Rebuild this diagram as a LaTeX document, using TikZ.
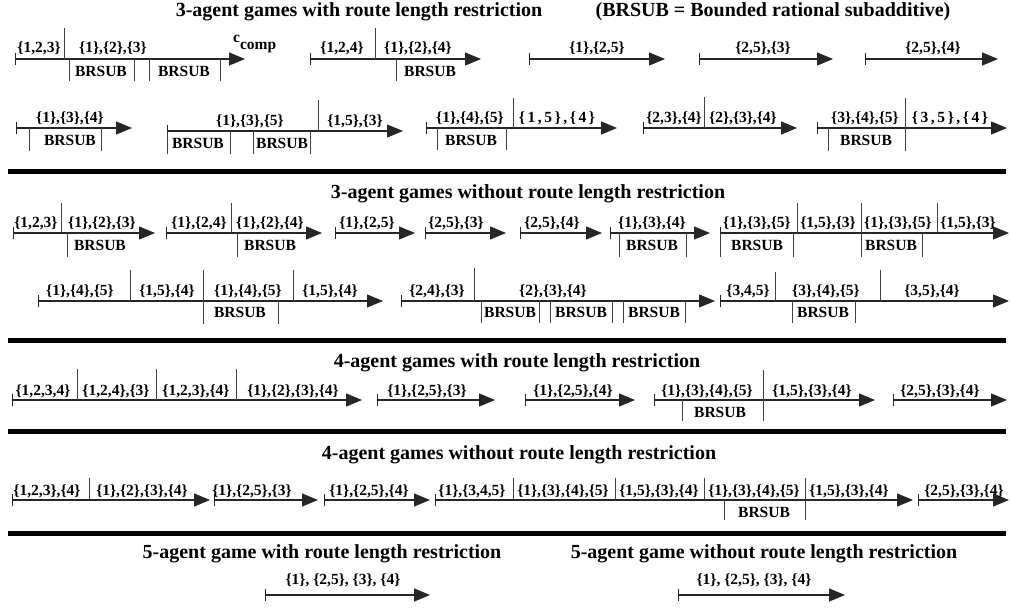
\documentclass[tikz,border=0pt]{standalone}
\usepackage{fontspec}
\setmainfont{Liberation Serif}
\usepackage{tikz}
\usetikzlibrary{arrows.meta}

\begin{document}
\begin{tikzpicture}[x=1pt, y=-1pt,
	tl/.style={line width=1.1pt, black!85, {Bar[width=12pt]}-{Triangle[length=16pt,width=13pt]}},
	div/.style={line width=0.9pt, black!75},
	sep/.style={line width=5pt, black},
	lab/.style={inner sep=0pt, anchor=base, font=\fontsize{15.5}{18}\selectfont\bfseries},
	brs/.style={inner sep=0pt, anchor=base, font=\fontsize{15.5}{18}\selectfont\bfseries},
	ttl/.style={inner sep=0pt, anchor=base, font=\fontsize{20}{24}\selectfont\bfseries}]
	\useasboundingbox (0,0) rectangle (1011,609);

	\node[ttl] (t1a) at (359,17) {3-agent games with route length restriction};
	\node[ttl] (t1b) at (773,17) {(BRSUB = Bounded rational subadditive)};
	\node[ttl] (t2) at (528,199) {3-agent games without route length restriction};
	\node[ttl] (t3) at (517,367) {4-agent games with route length restriction};
	\node[ttl] (t4) at (519,459) {4-agent games without route length restriction};
	\node[ttl] (t5a) at (322,558) {5-agent game with route length restriction};
	\node[ttl] (t5b) at (764,558) {5-agent game without route length restriction};

	\coordinate (sepa1) at (8,172);  \coordinate (sepb1) at (1006,172);
	\coordinate (sepa2) at (8,340);  \coordinate (sepb2) at (1006,340);
	\coordinate (sepa3) at (8,431);  \coordinate (sepb3) at (1006,431);
	\coordinate (sepa4) at (8,533);  \coordinate (sepb4) at (1006,533);
	\foreach \i in {1,...,4}
		\draw[sep] (sepa\i) -- (sepb\i);

	\foreach \a/\b/\y [count=\i] in {
		15/245/59, 310/481/59, 529/665/59, 699/833/59, 865/998/59,
		16/132/128, 167/403/131, 426/617/128, 643/797/128, 817/1007/128,
		13/155/233, 166/322/233, 335/415/233, 425/506/233, 520/602/233, 610/710/233, 720/1009/233,
		38/383/301, 401/715/301, 720/1009/301,
		12/362/400, 377/495/400, 525/635/400, 654/875/400, 893/1007/400,
		12/210/500, 214/318/500, 324/430/500, 435/913/500, 918/1009/500,
		265/430/595, 678/845/595}
	{
		\coordinate (s\i) at (\a,\y);
		\coordinate (e\i) at (\b,\y);
		\draw[tl] (s\i) -- (e\i);
	}

	\foreach \x/\ya/\yb in {
		64/28/59, 375/28/59, 69/59/81, 134/59/81, 149/59/81, 220/59/81, 396/59/81,
		318/100/131, 513/98/128, 704/97/128, 905/98/151, 29/128/151, 101/128/151, 167/131/154,
		230/131/154, 253/131/154, 310/131/154, 437/128/150, 506/128/150, 828/128/151,
		61/203/233, 231/203/233, 797/203/233, 861/203/257, 937/203/233, 67/233/257, 237/233/257,
		619/233/257, 686/233/257, 720/233/257, 793/233/257, 922/233/257,
		130/270/301, 203/270/324, 293/270/301, 474/268/301, 775/272/301, 880/270/301, 278/301/324,
		481/301/323, 539/301/323, 550/301/323, 612/301/323, 623/301/323, 685/301/323,
		792/301/323, 855/301/323,
		77/369/400, 156/369/400, 236/369/400, 763/370/421, 682/400/421,
		89/478/500, 513/478/500, 615/478/500, 704/478/500, 805/478/520, 724/500/520}
		\draw[div] (\x,\ya) -- (\x,\yb);

	\foreach \x/\y/\t [count=\i] in {
		39/53/{\{1,2,3\}}, 113/53/{\{1\},\{2\},\{3\}}, 342/53/{\{1,2,4\}}, 418/53/{\{1\},\{2\},\{4\}},
		597/53/{\{1\},\{2,5\}}, 763/53/{\{2,5\},\{3\}}, 933/53/{\{2,5\},\{4\}},
		70/123/{\{1\},\{3\},\{4\}}, 250/126/{\{1\},\{3\},\{5\}}, 355/126/{\{1,5\},\{3\}},
		470/123/{\{1\},\{4\},\{5\}}, 557/123/{\{\,1\,,\,5\,\}\,,\,\{\,4\,\}},
		674/123/{\{2,3\},\{4\}}, 743/123/{\{2\},\{3\},\{4\}},
		865/123/{\{3\},\{4\},\{5\}}, 950/123/{\{\,3\,,\,5\,\}\,,\,\{\,4\,\}},
		36/228/{\{1,2,3\}}, 102/228/{\{1\},\{2\},\{3\}}, 199/228/{\{1\},\{2,4\}}, 270/228/{\{1\},\{2\},\{4\}},
		367/228/{\{1\},\{2,5\}}, 456/228/{\{2,5\},\{3\}}, 552/228/{\{2,5\},\{4\}}, 652/228/{\{1\},\{3\},\{4\}},
		757/228/{\{1\},\{3\},\{5\}}, 828/228/{\{1,5\},\{3\}}, 898/228/{\{1\},\{3\},\{5\}}, 968/228/{\{1,5\},\{3\}},
		80/296/{\{1\},\{4\},\{5\}}, 167/296/{\{1,5\},\{4\}}, 248/296/{\{1\},\{4\},\{5\}}, 330/296/{\{1,5\},\{4\}},
		437/296/{\{2,4\},\{3\}}, 553/296/{\{2\},\{3\},\{4\}},
		748/296/{\{3,4,5\}}, 826/296/{\{3\},\{4\},\{5\}}, 932/296/{\{3,5\},\{4\}},
		43/395/{\{1,2,3,4\}}, 116/395/{\{1,2,4\},\{3\}}, 196/395/{\{1,2,3\},\{4\}}, 293/395/{\{1\},\{2\},\{3\},\{4\}},
		427/395/{\{1\},\{2,5\},\{3\}}, 573/395/{\{1\},\{2,5\},\{4\}}, 707/395/{\{1\},\{3\},\{4\},\{5\}},
		812/395/{\{1,5\},\{3\},\{4\}}, 940/395/{\{2,5\},\{3\},\{4\}},
		47/495/{\{1,2,3\},\{4\}}, 142/495/{\{1\},\{2\},\{3\},\{4\}}, 252/495/{\{1\},\{2,5\},\{3\}},
		369/495/{\{1\},\{2,5\},\{4\}}, 472/495/{\{1\},\{3,4,5\}}, 563/495/{\{1\},\{3\},\{4\},\{5\}},
		659/495/{\{1,5\},\{3\},\{4\}}, 754/495/{\{1\},\{3\},\{4\},\{5\}}, 849/495/{\{1,5\},\{3\},\{4\}},
		964/495/{\{2,5\},\{3\},\{4\}},
		343/584/{\{1\}, \{2,5\}, \{3\}, \{4\}}, 754/584/{\{1\}, \{2,5\}, \{3\}, \{4\}}}
		\node[lab] (l\i) at (\x,\y) {\t};

	\node[lab, anchor=base west] (ccomp) at (233,43) {c\raisebox{-7pt}{comp}};

	\foreach \x/\y [count=\i] in {
		101/77, 184/77, 430/77,
		70/146, 198/149, 282/149, 471/146, 866/146,
		100/251, 270/251, 652/251, 757/251, 891/251,
		240/318, 510/318, 581/318, 654/318, 823/318,
		720/417, 764/517}
		\node[brs] (brsub\i) at (\x,\y) {BRSUB};
\end{tikzpicture}
\end{document}
